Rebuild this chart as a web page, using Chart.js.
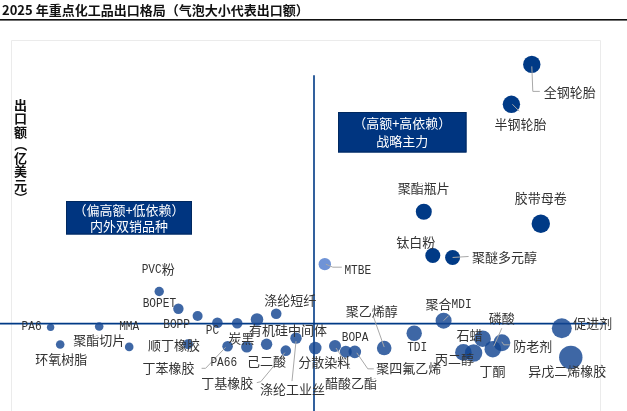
<!DOCTYPE html>
<html>
<head>
<meta charset="utf-8">
<script src="https://cdn.jsdelivr.net/npm/chart.js@4.4.1/dist/chart.umd.min.js"></script>
<style>
  html, body { margin: 0; padding: 0; background: #fff; overflow: hidden; }
</style>
</head>
<body>
<canvas id="bubble-chart" width="627" height="411"></canvas>
<script>
// 品种名称 / 出口依赖度 / 出口额 / 气泡大小(出口额)
const names = [
  '全钢轮胎', '半钢轮胎', '聚酯瓶片', '胶带母卷', '钛白粉', '聚醚多元醇', 'MTBE',
  'PVC粉', 'BOPET', 'BOPP', 'PC', '炭黑', '有机硅中间体', '涤纶短纤',
  'PA6', '聚酯切片', 'MMA', '环氧树脂', '顺丁橡胶', '丁苯橡胶', 'PA66', '己二酸',
  '丁基橡胶', '涤纶工业丝', '分散染料', '醋酸乙酯', 'BOPA', '聚四氟乙烯', '聚乙烯醇',
  'TDI', '聚合MDI', '丙二醇', '丁酮', '石蜡', '磷酸', '防老剂', '促进剂', '异戊二烯橡胶'
];
const dependency = [
  86.3, 82.9, 68.3, 87.8, 69.8, 73.1, 51.8,
  24.2, 27.4, 30.6, 33.9, 37.2, 40.5, 43.7,
  6.1, 14.2, 19.2, 7.7, 29.0, 35.6, 38.8, 42.1,
  45.3, 47.0, 50.2, 53.5, 55.3, 56.8, 61.7,
  66.7, 71.6, 74.9, 76.6, 78.1, 79.8, 81.3, 91.3, 92.8
];
const exportValue = [
  109.0, 95.3, 58.4, 54.3, 43.4, 42.7, 40.4,
  31.0, 25.1, 22.6, 20.3, 20.1, 21.4, 23.4,
  18.7, 19.0, 12.0, 12.8, 12.9, 12.2, 12.0, 12.9,
  10.7, 15.0, 11.6, 12.3, 10.3, 10.3, 11.6,
  16.7, 21.0, 10.1, 9.9, 14.8, 11.2, 13.4, 18.4, 8.4
];
const bubbleSize = [
  33.6, 33.6, 28.4, 37.6, 25.0, 25.0, 17.1,
  9.8, 12.0, 11.1, 12.5, 12.5, 17.6, 12.5,
  6.1, 8.2, 8.2, 8.2, 11.1, 12.5, 14.4, 14.4,
  12.5, 14.4, 17.6, 16.0, 16.0, 17.6, 23.7,
  26.4, 28.4, 30.6, 33.6, 30.6, 30.6, 32.1, 44.4, 60.8
];
const quadrantX = 50;   // 依赖度分界
const quadrantY = 20;   // 出口额分界
const yTitle = '出口额（亿美元）';

// 标签相对气泡中心的位置 (px)
const labelOffsets = [
  [38, 28], [9, 20], [0, -24], [0, -26], [-17, -13], [52, 0], [33, 6],
  [-1, -22], [-19, -5], [-21, 8], [-5, 7.5], [4, 15], [31, 11], [14, -14],
  [-19, -1], [0, 14], [0, -21], [1, 14.6], [-14, 1], [-59, 22], [-23, 15.7], [0, 16.7],
  [-58.5, 32.7], [-3.5, 51], [9, 14.4], [16, 36.7], [9.3, -15], [54, 16.7], [-12.5, -36.6],
  [3, 14], [5, -16.3], [-9, 6.3], [19, 18], [-13, -4], [9, -31], [31, 3], [31, -5], [-3.5, 13.3]
];
// 引导线 (相对气泡中心)
const leaders = {
  '全钢轮胎': [[0, 2], [1, 27], [8, 27]],
  '半钢轮胎': [[1, 0], [8, 7]],
  '聚醚多元醇': [[0, 0], [16, -1]],
  'MTBE': [[1, 0], [8, 3], [17, 3]],
  '丁苯橡胶': [[-2, 1], [-22, 22], [-26, 22]],
  '丁基橡胶': [[-1, 2], [-25, 31], [-29, 32]],
  '涤纶工业丝': [[0, 3], [-4, 43]],
  '醋酸乙酯': [[1, 2], [15, 23]],
  '聚四氟乙烯': [[2, 1], [13, 17], [19, 17]],
  '聚乙烯醇': [[0, -1], [-11, -32]],
  '聚合MDI': [[0, 0], [5, -5]],
  '磷酸': [[1, -3], [9, -21]],
  '防老剂': [[0, -1], [2, 2], [8, 2]]
};

const darkSet = new Set(['全钢轮胎', '半钢轮胎', '聚酯瓶片', '胶带母卷', '钛白粉', '聚醚多元醇']);
function bubbleColor(name) {
  if (darkSet.has(name)) return '#003a86';
  if (name === 'MTBE') return '#6f93d6';
  return 'rgba(20, 70, 145, 0.82)';
}

const CJK_FONT = '"Noto Sans CJK SC", "Noto Sans", sans-serif';
const LATIN_FONT = '"Liberation Mono", "DejaVu Sans Mono", monospace';
const LATIN_SQUEEZE = 0.93;

// 中英文分段绘制
function drawMixed(ctx, text, cx, cy, color) {
  const runs = text.match(/[\x00-\x7F]+|[^\x00-\x7F]+/g) || [];
  const isLatin = runs.map(r => /^[\x00-\x7F]+$/.test(r));
  const fonts = isLatin.map(l => l ? '12px ' + LATIN_FONT : '13px ' + CJK_FONT);
  let total = 0;
  const widths = runs.map((r, i) => {
    ctx.font = fonts[i];
    const w = ctx.measureText(r).width * (isLatin[i] ? LATIN_SQUEEZE : 1);
    total += w;
    return w;
  });
  let x = cx - total / 2;
  ctx.fillStyle = color;
  ctx.textAlign = 'left';
  ctx.textBaseline = 'middle';
  runs.forEach((r, i) => {
    ctx.font = fonts[i];
    if (isLatin[i]) {
      ctx.save();
      ctx.translate(x, cy + 0.5);
      ctx.scale(LATIN_SQUEEZE, 1);
      ctx.fillText(r, 0, 0);
      ctx.restore();
    } else {
      ctx.fillText(r, x, cy);
    }
    x += widths[i];
  });
}

const backgroundPlugin = {
  id: 'backgroundPlugin',
  beforeDatasetsDraw(chart) {
    const { ctx, scales: { x, y } } = chart;
    ctx.save();
    // 标题
    ctx.fillStyle = '#111';
    ctx.font = 'bold 13px ' + CJK_FONT;
    ctx.textAlign = 'left';
    ctx.textBaseline = 'middle';
    ctx.fillText('2025 年重点化工品出口格局（气泡大小代表出口额）', 2, 10);
    ctx.fillRect(0, 19, chart.width, 1.6);

    // 纵轴标题 (竖排)
    ctx.font = 'bold 13px ' + CJK_FONT;
    ctx.textAlign = 'center';
    ctx.textBaseline = 'middle';
    [...yTitle].forEach((ch, i) => {
      const cy = 105 + i * 13.3;
      if (ch === '（' || ch === '）') {
        ctx.save();
        ctx.translate(20.5, cy);
        ctx.rotate(Math.PI / 2);
        ctx.fillText(ch, 0, 0);
        ctx.restore();
      } else {
        ctx.fillText(ch, 20.5, cy);
      }
    });

    // 绘图区外框
    ctx.strokeStyle = '#ebebeb';
    ctx.lineWidth = 1;
    ctx.beginPath();
    ctx.moveTo(11.5, chart.height + 2);
    ctx.lineTo(11.5, 40.5);
    ctx.lineTo(600.5, 40.5);
    ctx.lineTo(600.5, chart.height + 2);
    ctx.stroke();

    // 象限分界线
    ctx.strokeStyle = '#003a86';
    ctx.lineWidth = 1.6;
    const vx = x.getPixelForValue(quadrantX);
    const hy = y.getPixelForValue(quadrantY);
    ctx.beginPath();
    ctx.moveTo(vx, y.getPixelForValue(105.3));
    ctx.lineTo(vx, chart.height);
    ctx.moveTo(0, hy);
    ctx.lineTo(x.getPixelForValue(98.6), hy);
    ctx.stroke();

    // 象限说明框
    const boxes = [
      { x0: 66, y0: 201, x1: 192, y1: 234.5, lines: ['（偏高额+低依赖）', '内外双销品种'], ly: [210, 226.5] },
      { x0: 338, y0: 112, x1: 466.5, y1: 152.5, lines: ['（高额+高依赖）', '战略主力'], ly: [123.5, 141.5] }
    ];
    boxes.forEach(b => {
      ctx.fillStyle = '#003580';
      ctx.fillRect(b.x0, b.y0, b.x1 - b.x0, b.y1 - b.y0);
      ctx.strokeStyle = '#00285f';
      ctx.lineWidth = 1;
      ctx.strokeRect(b.x0 + 0.5, b.y0 + 0.5, b.x1 - b.x0 - 1, b.y1 - b.y0 - 1);
      ctx.fillStyle = '#fff';
      ctx.font = '13px ' + CJK_FONT;
      ctx.textAlign = 'center';
      ctx.textBaseline = 'middle';
      b.lines.forEach((t, i) => ctx.fillText(t, (b.x0 + b.x1) / 2, b.ly[i]));
    });
    ctx.restore();
  }
};

const labelPlugin = {
  id: 'labelPlugin',
  afterDatasetsDraw(chart) {
    const { ctx } = chart;
    const meta = chart.getDatasetMeta(0);
    ctx.save();
    meta.data.forEach((pt, i) => {
      const pts = leaders[names[i]];
      if (!pts) return;
      ctx.strokeStyle = '#a8a8a8';
      ctx.lineWidth = 1;
      ctx.beginPath();
      pts.forEach((p, k) => {
        const px = pt.x + p[0], py = pt.y + p[1];
        if (k === 0) ctx.moveTo(px, py); else ctx.lineTo(px, py);
      });
      ctx.stroke();
    });
    meta.data.forEach((pt, i) => {
      const [dx, dy] = labelOffsets[i];
      drawMixed(ctx, names[i], pt.x + dx, pt.y + dy, '#333');
    });
    ctx.restore();
  }
};

const points = names.map((n, i) => ({
  x: dependency[i],
  y: exportValue[i],
  r: 1.5 * Math.sqrt(bubbleSize[i])
}));

new Chart(document.getElementById('bubble-chart'), {
  type: 'bubble',
  data: {
    datasets: [{
      label: '出口额',
      data: points,
      backgroundColor: names.map(bubbleColor),
      borderWidth: 0,
      hoverBorderWidth: 0,
      clip: false
    }]
  },
  options: {
    responsive: false,
    animation: false,
    events: [],
    layout: { padding: { left: 14, right: 13, top: 44, bottom: 1 } },
    scales: {
      x: { type: 'linear', min: 0, max: 100, display: false },
      y: { type: 'linear', min: -6, max: 116, display: false }
    },
    plugins: {
      legend: { display: false },
      tooltip: { enabled: false }
    }
  },
  plugins: [backgroundPlugin, labelPlugin]
});
</script>
</body>
</html>
